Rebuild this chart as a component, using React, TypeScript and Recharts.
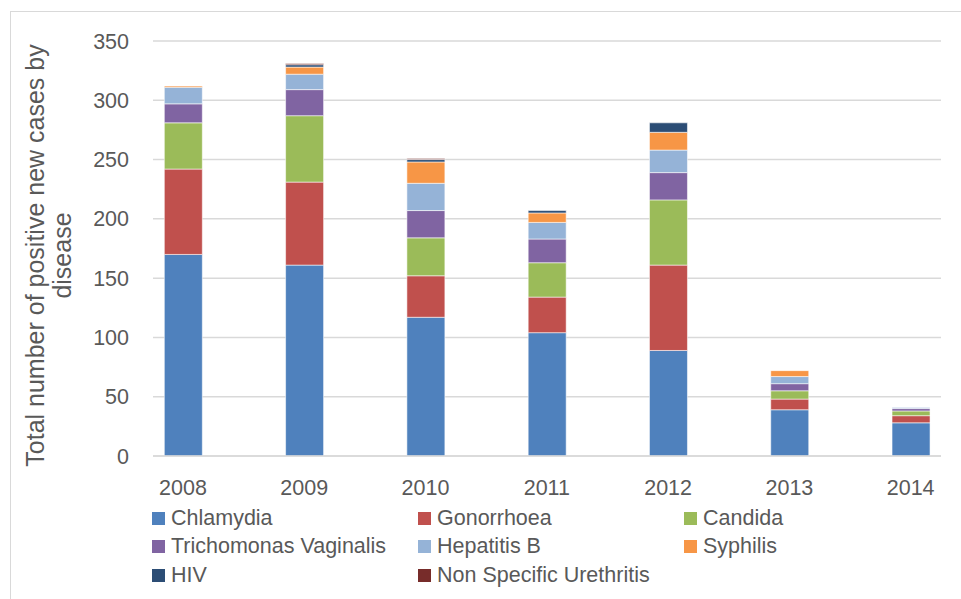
import { BarChart, Bar, XAxis, YAxis, CartesianGrid, Legend, Label } from "recharts";

const years = ["2008", "2009", "2010", "2011", "2012", "2013", "2014"];

// segment values, bottom to top
const chlamydia = [170, 161, 117, 104, 89, 39, 28];
const gonorrhoea = [72, 70, 35, 30, 72, 9, 6];
const candida = [39, 56, 32, 29, 55, 7, 4];
const trichomonas = [16, 22, 23, 20, 23, 6, 2];
const hepatitisB = [14, 13, 23, 14, 19, 6, 1];
const syphilis = [1, 6, 18, 8, 15, 5, 0];
const hiv = [0, 2, 2, 2, 8, 0, 0];
const nsu = [0, 1, 1, 0, 0, 0, 0];

const yTicks = [0, 50, 100, 150, 200, 250, 300, 350];

const series = [
  { key: "chlamydia", name: "Chlamydia", values: chlamydia, color: "#4f81bd" },
  { key: "gonorrhoea", name: "Gonorrhoea", values: gonorrhoea, color: "#c0504d" },
  { key: "candida", name: "Candida", values: candida, color: "#9bbb59" },
  { key: "trichomonas", name: "Trichomonas Vaginalis", values: trichomonas, color: "#8064a2" },
  { key: "hepatitisB", name: "Hepatitis B", values: hepatitisB, color: "#95b3d7" },
  { key: "syphilis", name: "Syphilis", values: syphilis, color: "#f79646" },
  { key: "hiv", name: "HIV", values: hiv, color: "#2c4d75" },
  { key: "nsu", name: "Non Specific Urethritis", values: nsu, color: "#772c2a" },
];

const data = years.map((year, i) => {
  const row: Record<string, number | string> = { x: i, year };
  series.forEach((s) => {
    row[s.key] = s.values[i];
  });
  return row;
});

const FONT = "'Liberation Sans', Arial, sans-serif";
const TEXT = "#595959";

function LegendBox() {
  return (
    <div
      style={{
        display: "grid",
        gridTemplateColumns: "266px 266px 266px",
        gridAutoRows: "28.5px",
        fontFamily: FONT,
        fontSize: 21.5,
        color: TEXT,
      }}
    >
      {series.map((s) => (
        <div key={s.key} style={{ display: "flex", alignItems: "center", whiteSpace: "nowrap" }}>
          <span style={{ width: 13, height: 13, background: s.color, marginRight: 6, display: "inline-block" }} />
          {s.name}
        </div>
      ))}
    </div>
  );
}

function YTitle(props: any) {
  const { viewBox } = props;
  const cx = 48;
  const cy = viewBox.y + viewBox.height / 2 + 7;
  return (
    <text
      x={cx}
      y={cy}
      transform={`rotate(-90, ${cx}, ${cy})`}
      textAnchor="middle"
      fill={TEXT}
      fontFamily={FONT}
      fontSize={25}
    >
      <tspan x={cx} dy={-4}>Total number of positive new cases by</tspan>
      <tspan x={cx} dy={27}>disease</tspan>
    </text>
  );
}

export default function App() {
  return (
    <div style={{ position: "absolute", left: 0, top: 0, width: 961, height: 599, background: "#fff", overflow: "hidden" }}>
      <div
        style={{
          position: "absolute",
          left: 10,
          top: 11,
          width: 980,
          height: 620,
          border: "1px solid #d9d9d9",
          boxSizing: "border-box",
        }}
      />
      <div style={{ position: "absolute", left: 0, top: 0 }}>
        <BarChart
          width={961}
          height={599}
          data={data}
          margin={{ top: 41, right: 20, bottom: 113, left: 93 }}
        >
          <CartesianGrid vertical={false} stroke="#d9d9d9" strokeWidth={1.5} />
          <XAxis
            dataKey="x"
            type="number"
            domain={[-0.247, 6.25]}
            ticks={[0, 1, 2, 3, 4, 5, 6]}
            tickFormatter={(v: number) => years[v]}
            allowDataOverflow
            height={30}
            axisLine={{ stroke: "#d9d9d9", strokeWidth: 1.5 }}
            tickLine={false}
            tickSize={0}
            tickMargin={24}
            tick={{ fill: TEXT, fontSize: 21.5, fontFamily: FONT }}
          />
          <YAxis
            domain={[0, 350]}
            ticks={yTicks}
            width={60}
            axisLine={false}
            tickLine={false}
            tickSize={0}
            tickMargin={24}
            tick={{ fill: TEXT, fontSize: 21.5, fontFamily: FONT }}
          >
            <Label content={<YTitle />} />
          </YAxis>
          {series.map((s) => (
            <Bar
              key={s.key}
              dataKey={s.key}
              name={s.name}
              stackId="a"
              fill={s.color}
              barSize={38}
              stroke="rgba(255,255,255,0.55)"
              strokeWidth={1}
              isAnimationActive={false}
            />
          ))}
          <Legend
            layout="horizontal"
            verticalAlign="middle"
            align="center"
            content={() => <LegendBox />}
            wrapperStyle={{ left: 152, top: 504, width: 800 }}
          />
        </BarChart>
      </div>
    </div>
  );
}
